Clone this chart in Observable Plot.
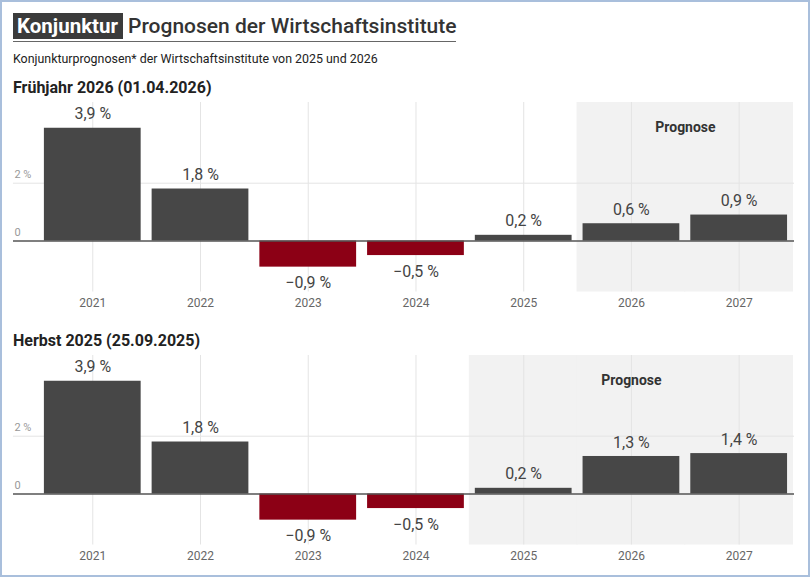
<!DOCTYPE html>
<html>
<head>
<meta charset="utf-8">
<script src="https://cdn.jsdelivr.net/npm/d3@7"></script>
<script src="https://cdn.jsdelivr.net/npm/@observablehq/plot@0.6"></script>
<style>
  html, body { margin: 0; padding: 0; background: #fff; }
  #frame { position: relative; width: 810px; height: 577px; box-sizing: border-box; border: 2px solid #a9bfdc; font-family: Roboto, "Noto Sans", sans-serif; overflow: hidden; }
  #title { position: absolute; left: 11px; top: 11px; width: 443px; height: 28px; border-bottom: 1.5px solid #666; white-space: nowrap; }
  #title .box { display: inline-block; background: #3b3b3b; color: #fff; font-weight: 700; font-size: 20.5px; line-height: 26px; padding: 0 5px 0 4px; }
  #title .rest { display: inline-block; color: #333; font-weight: 500; font-size: 21px; line-height: 26px; padding-left: 5px; }
  #subtitle { position: absolute; left: 11px; top: 49px; font-size: 12.4px; color: #222; }
  .heading { position: absolute; left: 11px; font-size: 16px; font-weight: 700; color: #222; }
  .chart { position: absolute; left: -2px; }
</style>
</head>
<body>
<div id="frame">
  <div id="title"><span class="box">Konjunktur</span><span class="rest">Prognosen der Wirtschaftsinstitute</span></div>
  <div id="subtitle">Konjunkturprognosen* der Wirtschaftsinstitute von 2025 und 2026</div>
  <div class="heading" style="top:76px">Frühjahr 2026 (01.04.2026)</div>
  <div class="chart" id="c1" style="top:98px"></div>
  <div class="heading" style="top:329px">Herbst 2025 (25.09.2025)</div>
  <div class="chart" id="c2" style="top:351px"></div>
</div>
<script>
const years = ["2021", "2022", "2023", "2024", "2025", "2026", "2027"];
const fruehjahr2026 = [3.9, 1.8, -0.9, -0.5, 0.2, 0.6, 0.9];
const herbst2025 = [3.9, 1.8, -0.9, -0.5, 0.2, 1.3, 1.4];
const forecastFruehjahr = ["2026", "2027"];
const forecastHerbst = ["2025", "2026", "2027"];
const yTicks = [0, 2];
const yDomain = [-1.76, 4.79];

const DARK = "#474747";
const RED = "#8c0015";
const fmt = v => (v < 0 ? "\u2212" : "") + Math.abs(v).toFixed(1).replace(".", ",") + " %";

function chart(values, forecast) {
  const data = years.map((year, i) => ({year, value: values[i]}));
  const fc = data.filter(d => forecast.includes(d.year));
  const xRange = [37.6, 795.3];
  const step = (xRange[1] - xRange[0]) / years.length;
  const mid = (forecast.length - 1) / 2;
  const labelYear = forecast[Math.floor(mid)];
  const labelDx = (mid - Math.floor(mid)) * step;
  return Plot.plot({
    width: 810,
    height: 215,
    marginTop: 2,
    marginBottom: 23,
    marginLeft: 13,
    marginRight: 14,
    style: {fontFamily: "Roboto, 'Noto Sans', sans-serif", background: "transparent"},
    x: {type: "band", domain: years, range: xRange, paddingInner: 0.1, paddingOuter: 0.05, label: null},
    y: {domain: yDomain, label: null},
    marks: [
      Plot.barY(fc, {x: "year", y1: () => yDomain[0], y2: () => yDomain[1], fill: "#f2f2f2", insetLeft: -6, insetRight: -6}),
      Plot.gridX({stroke: "#e4e4e4", strokeOpacity: 1}),
      Plot.gridY([2], {stroke: "#e4e4e4", strokeOpacity: 1}),
      Plot.barY(data, {x: "year", y: "value", fill: d => d.value < 0 ? RED : DARK}),
      Plot.ruleY([0], {stroke: "#555", strokeWidth: 1.5}),
      Plot.text(data.filter(d => d.value >= 0), {x: "year", y: "value", text: d => fmt(d.value), dy: -14, fontSize: 16, fill: "#444"}),
      Plot.text(data.filter(d => d.value < 0), {x: "year", y: "value", text: d => fmt(d.value), dy: 16, fontSize: 16, fill: "#444"}),
      Plot.text(["Prognose"], {x: () => labelYear, frameAnchor: "top", dy: 20, dx: labelDx, text: d => d, fontSize: 14, fontWeight: 700, fill: "#333"}),
      Plot.axisX({tickSize: 0, tickPadding: 6, fontSize: 12, fill: "#666"}),
      Plot.axisY(yTicks, {tickSize: 0, tickPadding: 3, textAnchor: "start", dx: 4, dy: -9, fontSize: 11, fill: "#999", tickFormat: d => d === 0 ? "0" : d + " %"})
    ]
  });
}

document.getElementById("c1").appendChild(chart(fruehjahr2026, forecastFruehjahr));
document.getElementById("c2").appendChild(chart(herbst2025, forecastHerbst));
</script>
</body>
</html>
